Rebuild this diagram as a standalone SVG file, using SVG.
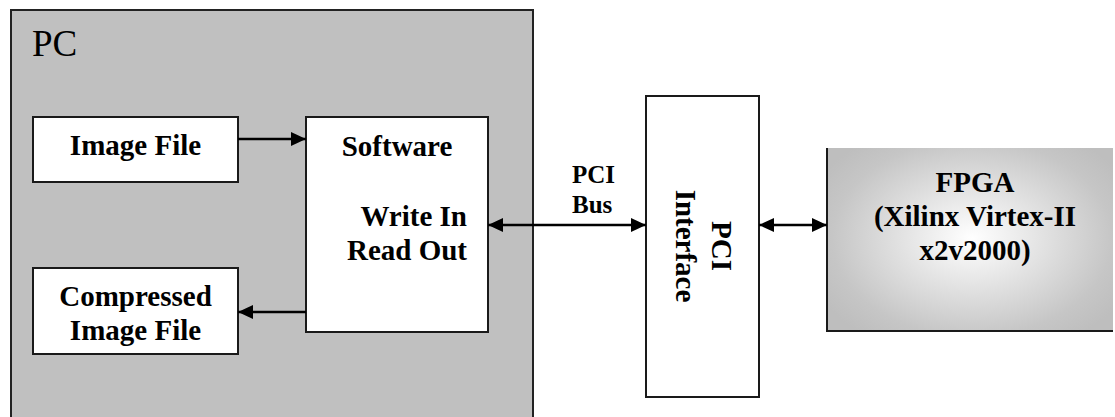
<svg xmlns="http://www.w3.org/2000/svg" width="1115" height="417" viewBox="0 0 1115 417">
<style>
.box{fill:#fff;stroke:#1a1a1a;stroke-width:2}
.t{font-family:"Liberation Serif","Times New Roman",serif;font-weight:bold;font-size:29px;fill:#000}
.c{stroke:#000;stroke-width:2.5;fill:none}
</style>
<defs>
<marker id="ah" markerUnits="userSpaceOnUse" markerWidth="16" markerHeight="14" refX="15" refY="7" orient="auto-start-reverse" viewBox="0 0 16 14">
<path d="M0,0 L15,7 L0,14 z" fill="#000"/>
</marker>
<radialGradient id="fg" cx="972" cy="238" r="175" gradientUnits="userSpaceOnUse" gradientTransform="translate(972 238) scale(1 0.7) translate(-972 -238)">
<stop offset="0" stop-color="#ffffff"/>
<stop offset="0.8" stop-color="#c6c6c6"/>
<stop offset="1" stop-color="#bebebe"/>
</radialGradient>
</defs>
<g id="pc">
<rect x="11" y="10" width="522" height="420" fill="#c0c0c0" stroke="#222" stroke-width="2"/>
<text x="32" y="56" style="font-family:'Liberation Serif','Times New Roman',serif;font-size:37px;fill:#000">PC</text>
</g>
<g id="image-file">
<rect class="box" x="33" y="117" width="205" height="65"/>
<text class="t" x="135.5" y="155" text-anchor="middle">Image File</text>
</g>
<g id="compressed">
<rect class="box" x="33" y="268" width="205" height="86"/>
<text class="t" x="135.5" y="306" text-anchor="middle">Compressed</text>
<text class="t" x="135.5" y="340" text-anchor="middle">Image File</text>
</g>
<g id="software">
<rect class="box" x="306" y="117" width="182" height="215"/>
<text class="t" x="397" y="156" text-anchor="middle">Software</text>
<text class="t" x="467" y="226" text-anchor="end">Write In</text>
<text class="t" x="467" y="260" text-anchor="end">Read Out</text>
</g>
<g id="pci-interface">
<rect class="box" x="646" y="96" width="113" height="301"/>
<text class="t" transform="translate(712 246) rotate(90)" text-anchor="middle">PCI<tspan x="0" dy="36">Interface</tspan></text>
</g>
<g id="fpga">
<rect x="827" y="148" width="286" height="183" fill="url(#fg)"/>
<path d="M827,148 V331 H1113" fill="none" stroke="#1a1a1a" stroke-width="2"/>
<text class="t" x="975" y="192" text-anchor="middle">FPGA</text>
<text class="t" x="975" y="226" text-anchor="middle">(Xilinx Virtex-II</text>
<text class="t" x="975" y="260" text-anchor="middle">x2v2000)</text>
</g>
<g id="pci-bus-label">
<text class="t" x="572" y="183" style="font-size:25px">PCI</text>
<text class="t" x="572" y="213" style="font-size:25px">Bus</text>
</g>
<g id="connectors">
<line class="c" x1="238" y1="139" x2="306" y2="139" marker-end="url(#ah)"/>
<line class="c" x1="306" y1="312" x2="238" y2="312" marker-end="url(#ah)"/>
<line class="c" x1="488" y1="225" x2="646" y2="225" marker-start="url(#ah)" marker-end="url(#ah)"/>
<line class="c" x1="759" y1="225" x2="827" y2="225" marker-start="url(#ah)" marker-end="url(#ah)"/>
</g>
</svg>
